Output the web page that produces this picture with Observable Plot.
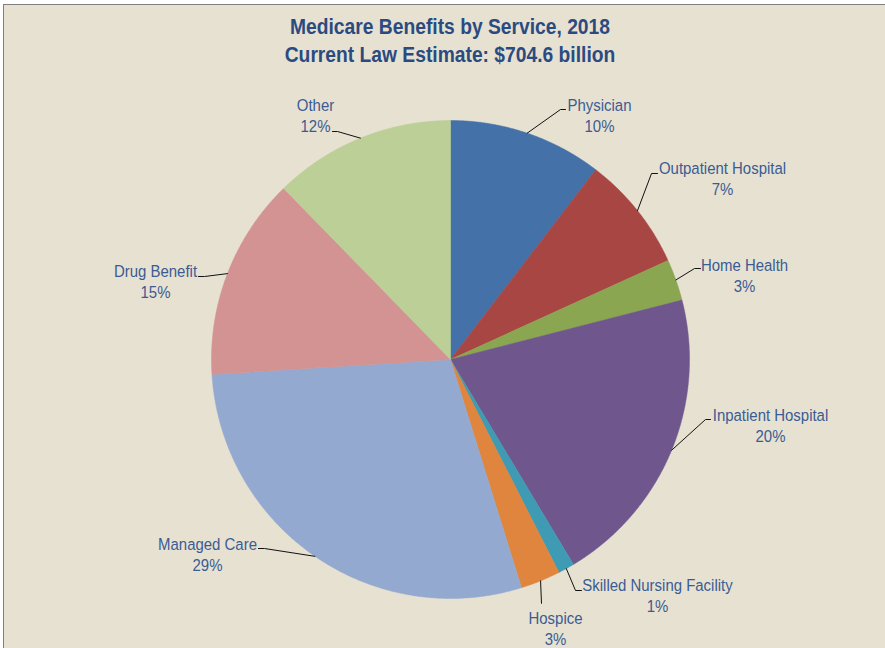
<!DOCTYPE html>
<html><head><meta charset="utf-8">
<script src="https://cdn.jsdelivr.net/npm/d3@7"></script>
<script src="https://cdn.jsdelivr.net/npm/@observablehq/plot@0.6"></script>
<style>
html,body{margin:0;padding:0;background:#fff;overflow:hidden;}
#wrap{position:relative;width:885px;height:648px;overflow:hidden;}
#frame{position:absolute;left:3px;top:4px;width:900px;height:700px;background:#E7E1D2;border-top:1.5px solid #7f7f7f;border-left:1.5px solid #7f7f7f;}
#title{position:absolute;left:0;top:13px;width:900px;text-align:center;font-family:"Liberation Sans","Arial",sans-serif;font-weight:bold;font-size:22px;line-height:28px;color:#2B4B80;transform:scaleX(0.875);transform-origin:450px 50%;}
#chart{position:absolute;left:0;top:0;}
</style></head>
<body>
<div id="wrap">
  <div id="frame"></div>
  <div id="title">Medicare Benefits by Service, 2018<br>Current Law Estimate: $704.6 billion</div>
  <div id="chart"></div>
</div>
<script>
// ---- data ----
const categories = ["Physician","Outpatient Hospital","Home Health","Inpatient Hospital","Skilled Nursing Facility","Hospice","Managed Care","Drug Benefit","Other"];
const shares = [10.4, 7.8, 2.8, 20.4, 1.1, 2.7, 28.8, 13.7, 12.3];
const pctLabels = ["10%","7%","3%","20%","1%","3%","29%","15%","12%"];
const colors = ["#4471A7","#A84644","#8AA651","#6F568C","#3E9BB3","#DF853D","#94A9D0","#D29392","#BBCF97"];

// ---- layout (not data) ----
const cx = 450, cy = 359, R = 239;
// label block centre x, y ; elbow x, y ; end x of short horizontal
const labelLayout = [
  [599, 114.5, 560, 109, 565],
  [722, 177,   651, 173, 657],
  [744, 274,   694, 268, 700],
  [770, 424,   705, 419, 710],
  [657, 594.5, 575, 590, 581],
  [555, 627.5, 541, 603, 541],
  [207, 553,   264, 548, 258],
  [155, 280.5, 204, 276, 198],
  [315, 114.5, 337, 131, 332]
];

const arcs = d3.pie().sort(null).value(d => d)(shares);
const pt = (a, r) => [cx + r * Math.sin(a), cy - r * Math.cos(a)];

const slicePts = [];
arcs.forEach((a, i) => {
  const cat = categories[i];
  slicePts.push({cat, x: cx, y: cy});
  const n = Math.max(4, Math.ceil((a.endAngle - a.startAngle) / 0.005));
  for (let k = 0; k <= n; k++) {
    const t = a.startAngle + (a.endAngle - a.startAngle) * k / n;
    const [x, y] = pt(t, R);
    slicePts.push({cat, x, y});
  }
  slicePts.push({cat, x: cx, y: cy});
});

const leaderPts = [];
const labels = [];
arcs.forEach((a, i) => {
  const cat = categories[i];
  const mid = (a.startAngle + a.endAngle) / 2;
  const [ax, ay] = pt(mid, R);
  const L = labelLayout[i];
  leaderPts.push({cat, x: ax, y: ay});
  leaderPts.push({cat, x: L[2], y: L[3]});
  leaderPts.push({cat, x: L[4], y: L[3]});
  labels.push({cat, x: L[0], y: L[1], text: cat + "\n" + pctLabels[i]});
});

const plot = Plot.plot({
  width: 885, height: 648,
  margin: 0,
  x: {domain: [0, 885], range: [0, 885], axis: null},
  y: {domain: [0, 648], range: [0, 648], axis: null},
  color: {domain: categories, range: colors},
  style: {background: "transparent", fontFamily: '"Liberation Sans","Arial",sans-serif'},
  marks: [
    Plot.line(slicePts, {x: "x", y: "y", z: "cat", fill: "cat", stroke: "cat", strokeWidth: 0.5, curve: "linear"}),
    Plot.line(leaderPts, {x: "x", y: "y", z: "cat", stroke: "#111", strokeWidth: 1}),
    Plot.text(labels, {x: "x", y: "y", text: "text", fill: "#3A5C92", fontSize: 17, lineHeight: 1.24, textAnchor: "middle"})
  ]
});
// condense label glyphs horizontally to mimic a narrow typeface
d3.select(plot).selectAll('g[aria-label="text"] text').each(function() {
  const t = this.getAttribute("transform") || "";
  this.setAttribute("transform", t + " scale(0.88,1)");
});
document.getElementById("chart").appendChild(plot);
</script>
</body></html>
